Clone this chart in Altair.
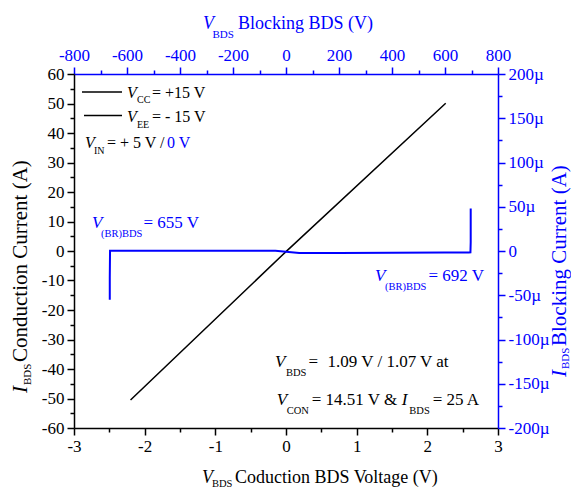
import altair as alt
import pandas as pd

# ---------------- data ----------------
# Conduction characteristic (bottom / left axes)
cond_voltage = [-2.2, 0.0, 2.26]          # V
cond_current = [-50.5, -0.2, 50.1]        # A

# Blocking characteristic (top / right axes), current in µA
block_voltage = [-665, -665, -664, -400, -200, -40, 50, 200, 400, 600, 690, 696, 697, 697]
block_current = [-55, -30, 0.3, 0.3, 0.3, 0.3, -2.2, -2.2, -2.0, -1.8, -1.8, -1.5, 10, 48]

# tick values
x_bottom_ticks = [v / 2 for v in range(-6, 7)]
y_left_ticks = list(range(-60, 61, 5))
x_top_ticks = list(range(-800, 801, 100))
y_right_ticks = list(range(-200, 201, 25))

BLUE = "#0000ff"
FONT = "Liberation Serif"
OX, OY = 74, 74  # plot origin on the page

cond_df = pd.DataFrame({"v": cond_voltage, "i": cond_current, "o": range(len(cond_voltage))})
block_df = pd.DataFrame({"v": block_voltage, "i": block_current, "o": range(len(block_voltage))})


def axis(orient, values, label_test, label_expr, color):
    return alt.Axis(
        orient=orient,
        values=values,
        title=None,
        grid=False,
        labelExpr=label_expr,
        labelOverlap=False,
        labelFlush=False,
        labelFont=FONT,
        labelFontSize=17,
        labelColor=color,
        labelPadding=3,
        domainColor=color,
        domainWidth=1.5,
        tickColor=color,
        tickWidth=1.5,
        tickSize={"condition": {"test": label_test, "value": 7}, "value": 4},
    )


conduction = alt.Chart(cond_df).mark_line(color="black", strokeWidth=1.5).encode(
    x=alt.X("v:Q", scale=alt.Scale(domain=[-3, 3], nice=False, zero=False),
            axis=axis("bottom", x_bottom_ticks, "datum.value % 1 == 0",
                      "datum.value % 1 == 0 ? '' + datum.value : ''", "black")),
    y=alt.Y("i:Q", scale=alt.Scale(domain=[-60, 60], nice=False, zero=False),
            axis=axis("left", y_left_ticks, "datum.value % 10 == 0",
                      "datum.value % 10 == 0 ? '' + datum.value : ''", "black")),
    order="o:Q",
)

blocking = alt.Chart(block_df).mark_line(color=BLUE, strokeWidth=2).encode(
    x=alt.X("v:Q", scale=alt.Scale(domain=[-800, 800], nice=False, zero=False),
            axis=axis("top", x_top_ticks, "datum.value % 200 == 0",
                      "datum.value % 200 == 0 ? '' + datum.value : ''", BLUE)),
    y=alt.Y("i:Q", scale=alt.Scale(domain=[-200, 200], nice=False, zero=False),
            axis=axis("right", y_right_ticks, "datum.value % 50 == 0",
                      "datum.value == 0 ? '0' : (datum.value % 50 == 0 ? datum.value + 'µ' : '')", BLUE)),
    order="o:Q",
)

one = pd.DataFrame({"a": [0]})


def txt(s, x, y, size, color="black", italic=False, angle=0):
    kw = dict(text=s, font=FONT, fontSize=size, color=color,
              align="left", baseline="alphabetic")
    if italic:
        kw["fontStyle"] = "italic"
    if angle:
        kw["angle"] = angle
    return alt.Chart(one).mark_text(**kw).encode(x=alt.value(x - OX), y=alt.value(y - OY))


def hline(x1, x2, y, color="black"):
    return alt.Chart(one).mark_rule(color=color, strokeWidth=1.5).encode(
        x=alt.value(x1 - OX), x2=alt.value(x2 - OX), y=alt.value(y - OY))


texts = [
    # top title
    txt("V", 203, 29, 18, BLUE, True),
    txt("BDS", 212.5, 37.5, 11, BLUE),
    txt("Blocking BDS (V)", 238, 29, 18, BLUE),
    # bottom title
    txt("V", 202, 483, 18, "black", True),
    txt("BDS", 212, 486.5, 10.5),
    txt("Coduction BDS Voltage (V)", 235, 483, 18),
    # left title
    txt("I", 27, 393, 21, "black", True, 270),
    txt("BDS", 31, 385, 11, "black", False, 270),
    txt("Conduction Current (A)", 27, 362, 21, "black", False, 270),
    # right title
    txt("I", 566, 377, 21, BLUE, True, 270),
    txt("BDS", 569, 369, 11, BLUE, False, 270),
    txt("Blocking Current (A)", 566, 346, 21, BLUE, False, 270),
    # legend
    hline(82, 122, 92),
    txt("V", 127, 97.5, 16, "black", True),
    txt("CC", 137, 103, 10),
    txt("= +15 V", 152, 97.5, 16),
    hline(84, 122, 115.5),
    txt("V", 127, 121.7, 16, "black", True),
    txt("EE", 137, 127.5, 10),
    txt("= - 15 V", 152, 121.7, 16),
    txt("V", 85, 147.5, 16, "black", True),
    txt("IN", 94, 153.5, 10),
    txt("= + 5 V /", 107, 147.5, 16),
    txt("0 V", 167, 147.5, 16, BLUE),
    # breakdown annotations
    txt("V", 92, 227.5, 17, BLUE, True),
    txt("(BR)BDS", 101, 236.5, 10.5, BLUE),
    txt("= 655 V", 143.5, 227.5, 17, BLUE),
    txt("V", 375, 281, 17, BLUE, True),
    txt("(BR)BDS", 385, 289.5, 10.5, BLUE),
    txt("= 692 V", 428.5, 281, 17, BLUE),
    # bottom annotation
    txt("V", 275, 367, 17, "black", True),
    txt("BDS", 286, 376, 10.5),
    txt("=", 308.5, 367, 17),
    txt("1.09 V / 1.07 V at", 327.5, 367, 17),
    txt("V", 276.7, 405, 17, "black", True),
    txt("CON", 286.7, 414, 10.5),
    txt("= 14.51 V &", 311.7, 405, 17),
    txt("I", 401.7, 405, 17, "black", True),
    txt("BDS", 409.3, 414, 10.5),
    txt("= 25 A", 432.7, 405, 17),
]

chart = alt.layer(conduction, blocking, *texts).resolve_scale(
    x="independent", y="independent"
).properties(
    width=424, height=354,
    autosize=alt.AutoSizeParams(type="none"),
    padding={"left": 66, "top": 66, "right": 73, "bottom": 60},
).configure(
    font=FONT
).configure_view(
    stroke=None
).configure_axis(
    labelFont=FONT, titleFont=FONT
).configure_text(
    font=FONT
)

chart.save("out.html", embed_options={"renderer": "svg", "actions": False})
